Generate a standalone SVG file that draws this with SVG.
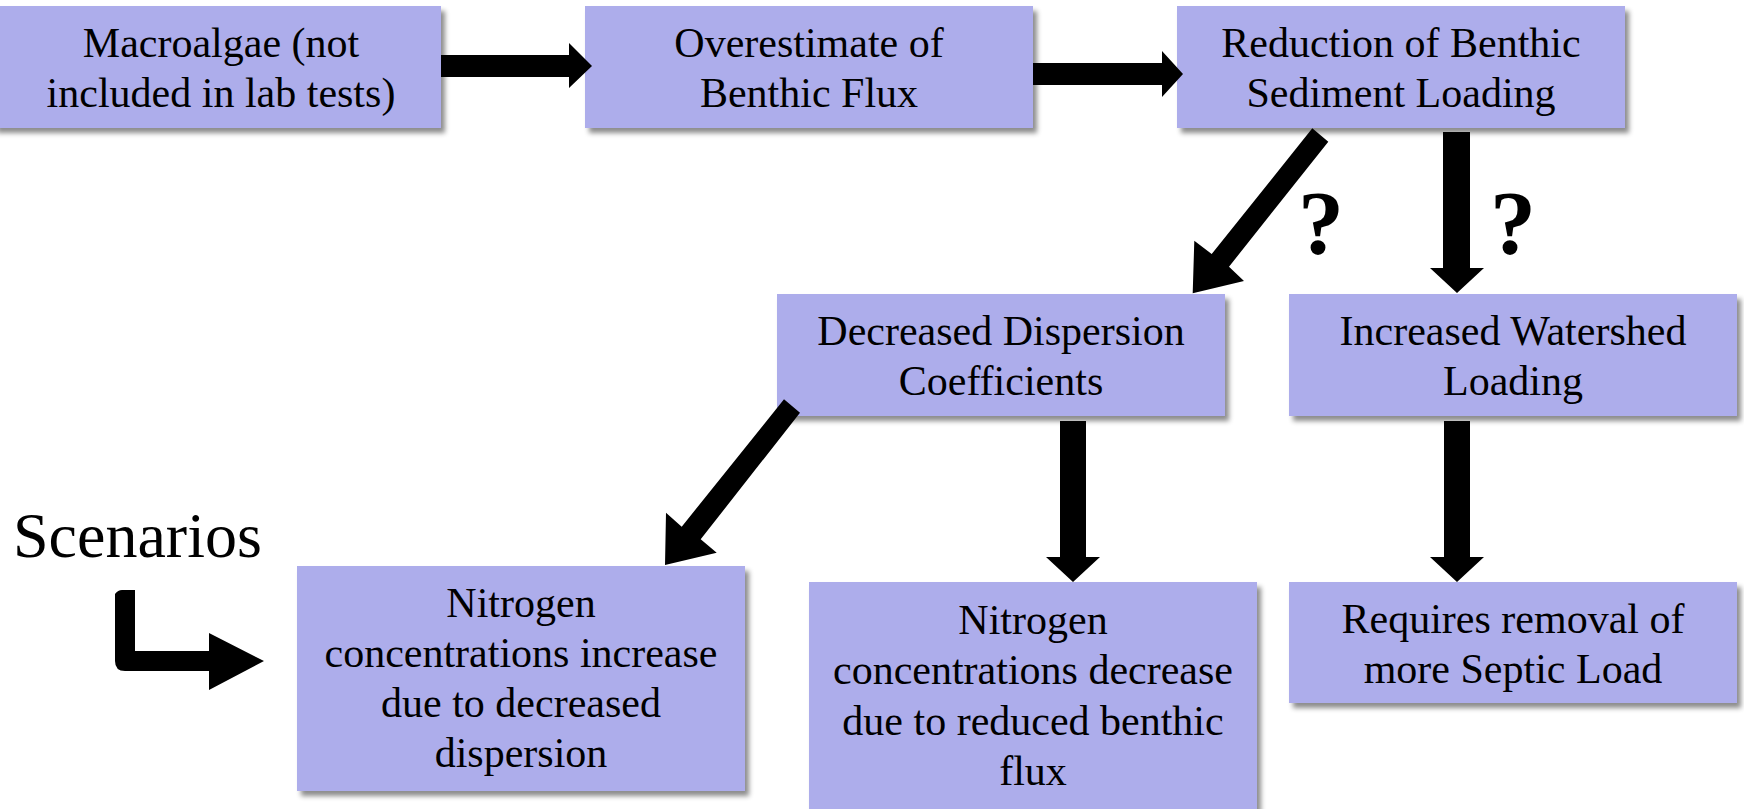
<svg xmlns="http://www.w3.org/2000/svg" width="1744" height="809" viewBox="0 0 1744 809">
  <defs>
    <filter id="sh" x="-5%" y="-5%" width="115%" height="120%">
      <feDropShadow dx="4" dy="5" stdDeviation="2.5" flood-color="#000" flood-opacity="0.45"/>
    </filter>
  </defs>
  <style>
    .box { fill: #ADADEB; filter: url(#sh); }
    .t { font-family: "Liberation Serif", "Times New Roman", serif; font-size: 42px; fill: #000; text-anchor: middle; }
    .q { font-family: "Liberation Serif", "Times New Roman", serif; font-size: 92px; font-weight: bold; fill: #000; text-anchor: middle; }
    .sc { font-family: "Liberation Serif", "Times New Roman", serif; font-size: 64px; fill: #000; }
    .arr { fill: #000; stroke: none; }
  </style>
  <rect width="1744" height="809" fill="#fff"/>

  <g id="n1">
    <rect class="box" x="-7" y="6" width="448" height="122"/>
    <text class="t" x="221" y="57">Macroalgae (not</text>
    <text class="t" x="221" y="107">included in lab tests)</text>
  </g>
  <g id="n2">
    <rect class="box" x="585" y="6" width="448" height="122"/>
    <text class="t" x="809" y="57">Overestimate of</text>
    <text class="t" x="809" y="107">Benthic Flux</text>
  </g>
  <g id="n3">
    <rect class="box" x="1177" y="6" width="448" height="122"/>
    <text class="t" x="1401" y="57">Reduction of Benthic</text>
    <text class="t" x="1401" y="107">Sediment Loading</text>
  </g>
  <g id="n4">
    <rect class="box" x="777" y="294" width="448" height="122"/>
    <text class="t" x="1001" y="345">Decreased Dispersion</text>
    <text class="t" x="1001" y="395">Coefficients</text>
  </g>
  <g id="n5">
    <rect class="box" x="1289" y="294" width="448" height="122"/>
    <text class="t" x="1513" y="345">Increased Watershed</text>
    <text class="t" x="1513" y="395">Loading</text>
  </g>
  <g id="n6">
    <rect class="box" x="297" y="566" width="448" height="225"/>
    <text class="t" x="521" y="617">Nitrogen</text>
    <text class="t" x="521" y="667">concentrations increase</text>
    <text class="t" x="521" y="717">due to decreased</text>
    <text class="t" x="521" y="767">dispersion</text>
  </g>
  <g id="n7">
    <rect class="box" x="809" y="582" width="448" height="230"/>
    <text class="t" x="1033" y="634">Nitrogen</text>
    <text class="t" x="1033" y="684">concentrations decrease</text>
    <text class="t" x="1033" y="735">due to reduced benthic</text>
    <text class="t" x="1033" y="785">flux</text>
  </g>
  <g id="n8">
    <rect class="box" x="1289" y="582" width="448" height="121"/>
    <text class="t" x="1513" y="633">Requires removal of</text>
    <text class="t" x="1513" y="683">more Septic Load</text>
  </g>

  <g id="scenarios">
    <text class="sc" x="13" y="557">Scenarios</text>
  </g>

  <g id="connectors">
    <polygon class="arr" points="441,55 569,55 569,43 592,66 569,88 569,77 441,77"/>
    <polygon class="arr" points="1033,63 1162,63 1162,51 1183,74 1162,97 1162,85 1033,85"/>
    <polygon class="arr" points="1312.3,128.3 1328.3,141.7 1229,266.7 1244,281 1192.7,293.3 1194.3,240.7 1211.7,254"/>
    <polygon class="arr" points="1443,132 1470,132 1470,268 1484,268 1457,293 1430,268 1443,268"/>
    <polygon class="arr" points="784,399.3 800,412.7 700.7,539.3 716.7,552.7 665,565 666,512.7 681.7,526.7"/>
    <polygon class="arr" points="1060,421 1086,421 1086,557 1100,557 1073,582 1046,557 1060,557"/>
    <polygon class="arr" points="1444,421 1470,421 1470,557 1484,557 1457,582 1430,557 1444,557"/>
    <path class="arr" d="M115,594 Q118,590 122,590 L135,590 L135,651 L209,651 L209,633 L264,661 L209,690 L209,671 L125,671 Q115,671 115,661 Z"/>
    <text class="q" x="1321" y="254">?</text>
    <text class="q" x="1513" y="254">?</text>
  </g>
</svg>
